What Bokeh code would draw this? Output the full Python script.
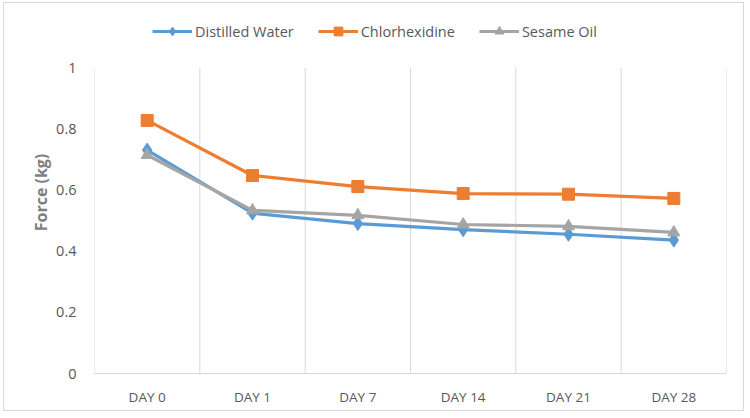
from bokeh.plotting import figure
from bokeh.models import Legend, LegendItem, FixedTicker, NumeralTickFormatter, Range1d
from bokeh.embed import file_html
from bokeh.resources import INLINE

days = ["DAY 0", "DAY 1", "DAY 7", "DAY 14", "DAY 21", "DAY 28"]
distilled_water = [0.730, 0.524, 0.490, 0.470, 0.455, 0.436]
chlorhexidine = [0.827, 0.647, 0.611, 0.588, 0.586, 0.572]
sesame_oil = [0.714, 0.533, 0.517, 0.487, 0.481, 0.461]
y_ticks = [0, 0.2, 0.4, 0.6, 0.8, 1.0]

FONT = "Open Sans"
TXT = "#595959"
GRID = "#D9D9D9"

n = len(days)
xs = [i + 0.5 for i in range(n)]
y_max = y_ticks[-1]
# frame extends above the value axis to host the legend (56px at 306px per unit)
y_top = y_max + 56 / 306

p = figure(width=741, height=409, output_backend="svg", toolbar_location=None,
           x_range=Range1d(0, n), y_range=Range1d(0, y_top),
           min_border_left=90, min_border_right=19, min_border_top=8, min_border_bottom=39,
           styles={"border": "1px solid #D9D9D9", "margin-left": "3px", "margin-top": "2px"})
p.outline_line_color = None
p.xgrid.grid_line_color = None
p.ygrid.grid_line_color = None

# vertical category-boundary gridlines, limited to the value range
bounds = list(range(n + 1))
p.segment(x0=bounds, y0=[0] * len(bounds), x1=bounds, y1=[y_max] * len(bounds),
          line_color=GRID, line_width=1)

series = [
    ("Distilled Water", distilled_water, "#5B9BD5", "diamond", 14),
    ("Chlorhexidine", chlorhexidine, "#ED7D31", "square", 12),
    ("Sesame Oil", sesame_oil, "#A5A5A5", "triangle", 12),
]
items = []
for name, vals, col, mk, sz in series:
    r1 = p.line(xs, vals, line_color=col, line_width=3.2)
    r2 = p.scatter(xs, vals, marker=mk, size=sz, fill_color=col, line_color=col)
    items.append(LegendItem(label=name, renderers=[r1, r2]))

legend = Legend(items=items, orientation="horizontal", location=(58, 331),
                label_text_font=FONT, label_text_font_size="14.5px", label_text_color=TXT,
                glyph_width=40, glyph_height=22, spacing=24, label_standoff=3,
                border_line_color=None, background_fill_alpha=0, padding=0, margin=0)
p.add_layout(legend, "center")

p.xaxis.ticker = FixedTicker(ticks=xs)
p.xaxis.major_label_overrides = {x: d for x, d in zip(xs, days)}
p.xaxis.axis_line_color = GRID
p.xaxis.major_tick_line_color = None
p.xaxis.minor_tick_line_color = None
p.xaxis.major_label_text_font = FONT
p.xaxis.major_label_text_font_size = "13.5px"
p.xaxis.major_label_text_color = TXT
p.xaxis.major_label_standoff = 8

p.yaxis.ticker = FixedTicker(ticks=y_ticks)
p.yaxis.formatter = NumeralTickFormatter(format="0.[0]")
p.yaxis.axis_line_color = None
p.yaxis.major_tick_line_color = None
p.yaxis.minor_tick_line_color = None
p.yaxis.major_label_text_font = FONT
p.yaxis.major_label_text_font_size = "14.5px"
p.yaxis.major_label_text_color = TXT
p.yaxis.major_label_standoff = 12
p.yaxis.axis_label = "Force (kg)"
p.yaxis.axis_label_text_font = FONT
p.yaxis.axis_label_text_font_size = "16px"
p.yaxis.axis_label_text_font_style = "bold"
p.yaxis.axis_label_text_color = "#7F7F7F"
p.yaxis.axis_label_standoff = 1

open("out.html", "w").write(file_html(p, INLINE))
